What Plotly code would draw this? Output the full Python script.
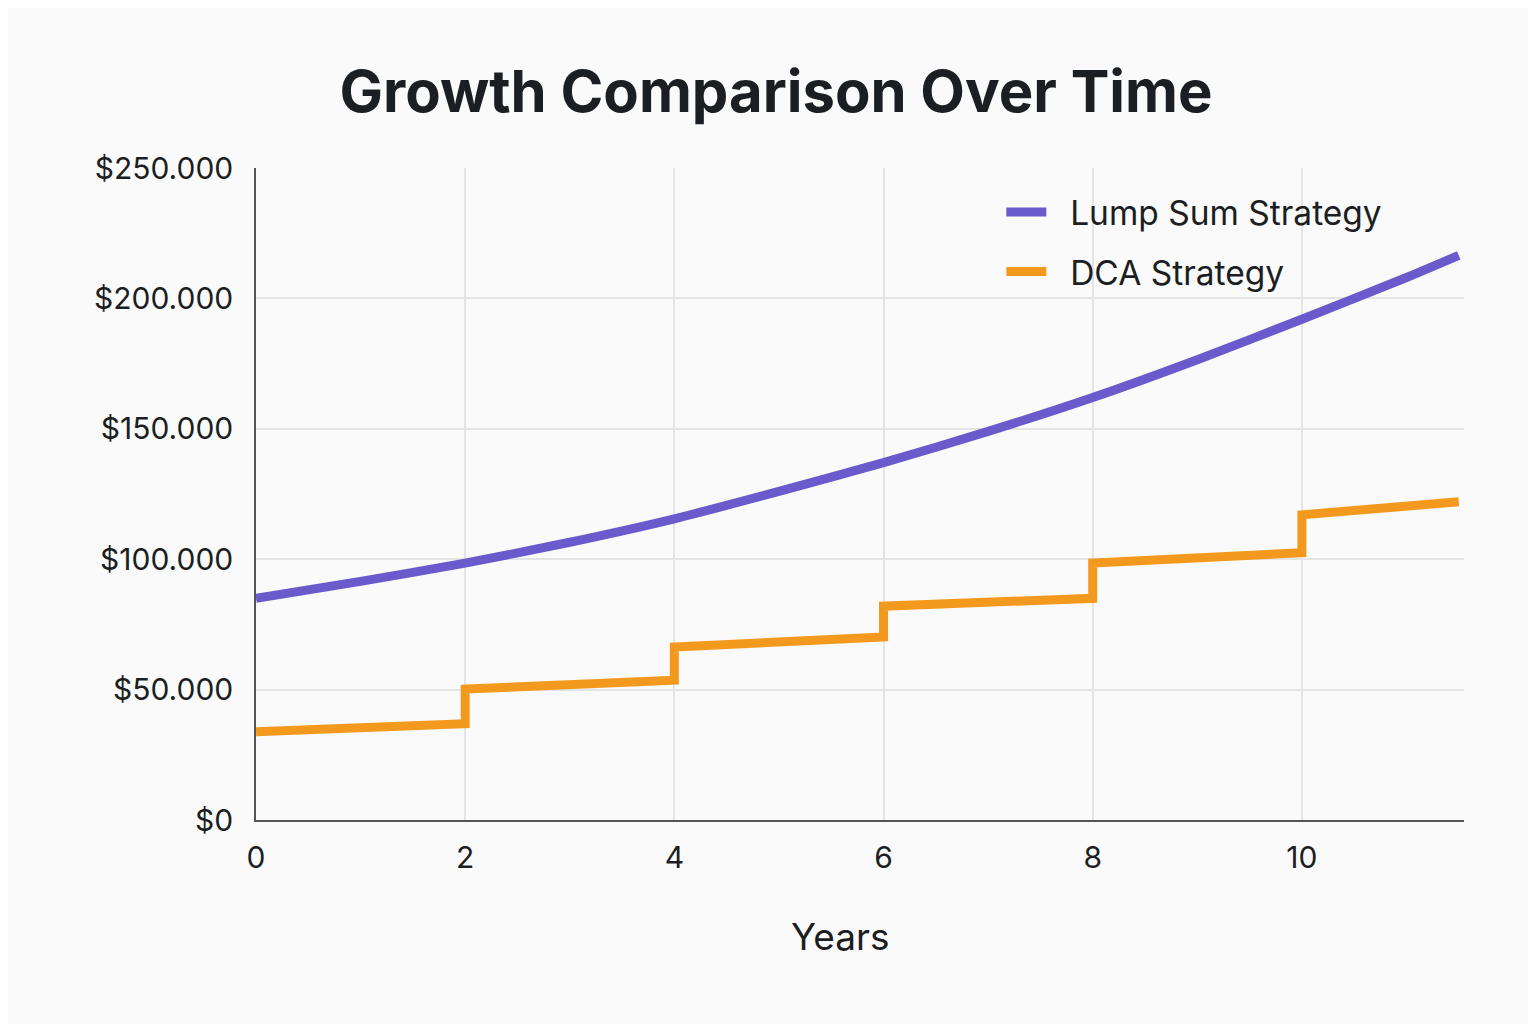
import plotly.graph_objects as go

# values
lump_years = [0, 1, 2, 3, 4, 5, 6, 7, 8, 9, 10, 11, 11.5]
lump_values = [85000, 91500, 98500, 106500, 115500, 126000, 137000, 149000,
               162000, 176500, 192000, 208000, 216500]

dca_years = [0, 2, 2, 4, 4, 6, 6, 8, 8, 10, 10, 11.5]
dca_values = [33800, 36900, 50200, 53600, 66300, 70200, 82000, 85000,
              98500, 102500, 117000, 122000]

y_ticks = [0, 50000, 100000, 150000, 200000, 250000]
y_labels = ["$0", "$50.000", "$100.000", "$150.000", "$200.000", "$250.000"]
x_ticks = [0, 2, 4, 6, 8, 10]

PURPLE = "#6a5acb"
ORANGE = "#f39a1e"
TEXT = "#1b1e22"
BG = "#fafafa"
FONT = "Inter, Roboto, sans-serif"

fig = go.Figure()
fig.add_trace(go.Scatter(
    x=lump_years, y=lump_values, mode="lines",
    name="\u00a0\u00a0Lump Sum Strategy",
    line=dict(color=PURPLE, width=9, shape="spline", smoothing=0.6),
    legendgroup="a",
))
fig.add_trace(go.Scatter(
    x=dca_years, y=dca_values, mode="lines",
    name="\u00a0\u00a0DCA Strategy",
    line=dict(color=ORANGE, width=9),
    legendgroup="b",
))

# page has an 8px body margin, so margins are shifted to compensate
fig.update_layout(
    width=1536, height=1024,
    paper_bgcolor=BG, plot_bgcolor=BG,
    font=dict(family=FONT, color=TEXT, size=30),
    margin=dict(l=248, r=80, t=160, b=212),
    title=dict(
        text="<b>Growth Comparison Over Time</b>",
        x=0.5, xanchor="center", y=0.918, yanchor="middle",
        font=dict(family=FONT, size=58, color=TEXT),
    ),
    legend=dict(
        x=0.617, y=0.976, xanchor="left", yanchor="top",
        bgcolor="rgba(0,0,0,0)", font=dict(size=33.5, color=TEXT),
        traceorder="grouped", tracegroupgap=13, itemwidth=40,
    ),
    showlegend=True,
)

# axis title sits left of the plot centre in the reference, so use an annotation
fig.add_annotation(
    text="Years", xref="paper", yref="paper", x=0.4834, y=-0.178,
    xanchor="center", yanchor="middle", showarrow=False,
    font=dict(size=37, color=TEXT),
)

fig.update_xaxes(
    range=[0, 11.55], tickvals=x_ticks, showgrid=True, gridcolor="#e4e4e4",
    gridwidth=1.5, showline=True, linecolor="#555555", linewidth=1.5,
    zeroline=False, ticks="", ticklabelstandoff=10,
    tickfont=dict(size=30, color=TEXT),
)
fig.update_yaxes(
    range=[0, 250000], tickvals=y_ticks, ticktext=y_labels, showgrid=True,
    gridcolor="#e4e4e4", gridwidth=1.5, showline=True, linecolor="#555555",
    linewidth=1.5, zeroline=False, ticks="", ticklabelstandoff=15,
    tickfont=dict(size=30, color=TEXT),
)

fig.write_html("out.html")
